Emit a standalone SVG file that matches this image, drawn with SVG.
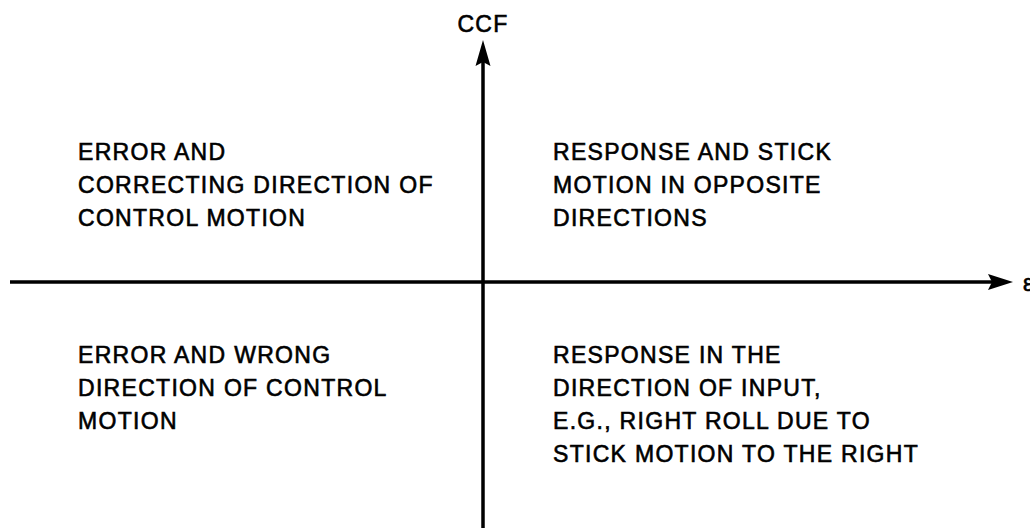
<svg xmlns="http://www.w3.org/2000/svg" width="1030" height="528" viewBox="0 0 1030 528">
<style>
.t{font-family:"Liberation Sans",Arial,sans-serif;font-size:23px;letter-spacing:1.3px;fill:#000;stroke:#000;stroke-width:0.6px}
.ax{stroke:#000;stroke-width:3.5;fill:none}
</style>
<rect width="1030" height="528" fill="#fff"/>
<g id="connectors">
<line class="ax" x1="10" y1="282" x2="992" y2="282"/>
<polygon points="1013,282 988,274 992,282 988,290" fill="#000"/>
<line class="ax" x1="483" y1="528" x2="483" y2="60"/>
<polygon points="483,40 475.5,66 483,62 490.5,66" fill="#000"/>
</g>
<g id="axis-labels">
<text class="t" x="483" y="32" text-anchor="middle">CCF</text>
<text class="t" x="1023" y="291">ε</text>
</g>
<g id="q2">
<text class="t" x="78" y="160">ERROR AND</text>
<text class="t" x="78" y="193">CORRECTING DIRECTION OF</text>
<text class="t" x="78" y="226">CONTROL MOTION</text>
</g>
<g id="q1">
<text class="t" x="553" y="160">RESPONSE AND STICK</text>
<text class="t" x="553" y="193">MOTION IN OPPOSITE</text>
<text class="t" x="553" y="226">DIRECTIONS</text>
</g>
<g id="q3">
<text class="t" x="78" y="363">ERROR AND WRONG</text>
<text class="t" x="78" y="396">DIRECTION OF CONTROL</text>
<text class="t" x="78" y="429">MOTION</text>
</g>
<g id="q4">
<text class="t" x="553" y="363">RESPONSE IN THE</text>
<text class="t" x="553" y="396">DIRECTION OF INPUT,</text>
<text class="t" x="553" y="429">E.G., RIGHT ROLL DUE TO</text>
<text class="t" x="553" y="462">STICK MOTION TO THE RIGHT</text>
</g>
</svg>
